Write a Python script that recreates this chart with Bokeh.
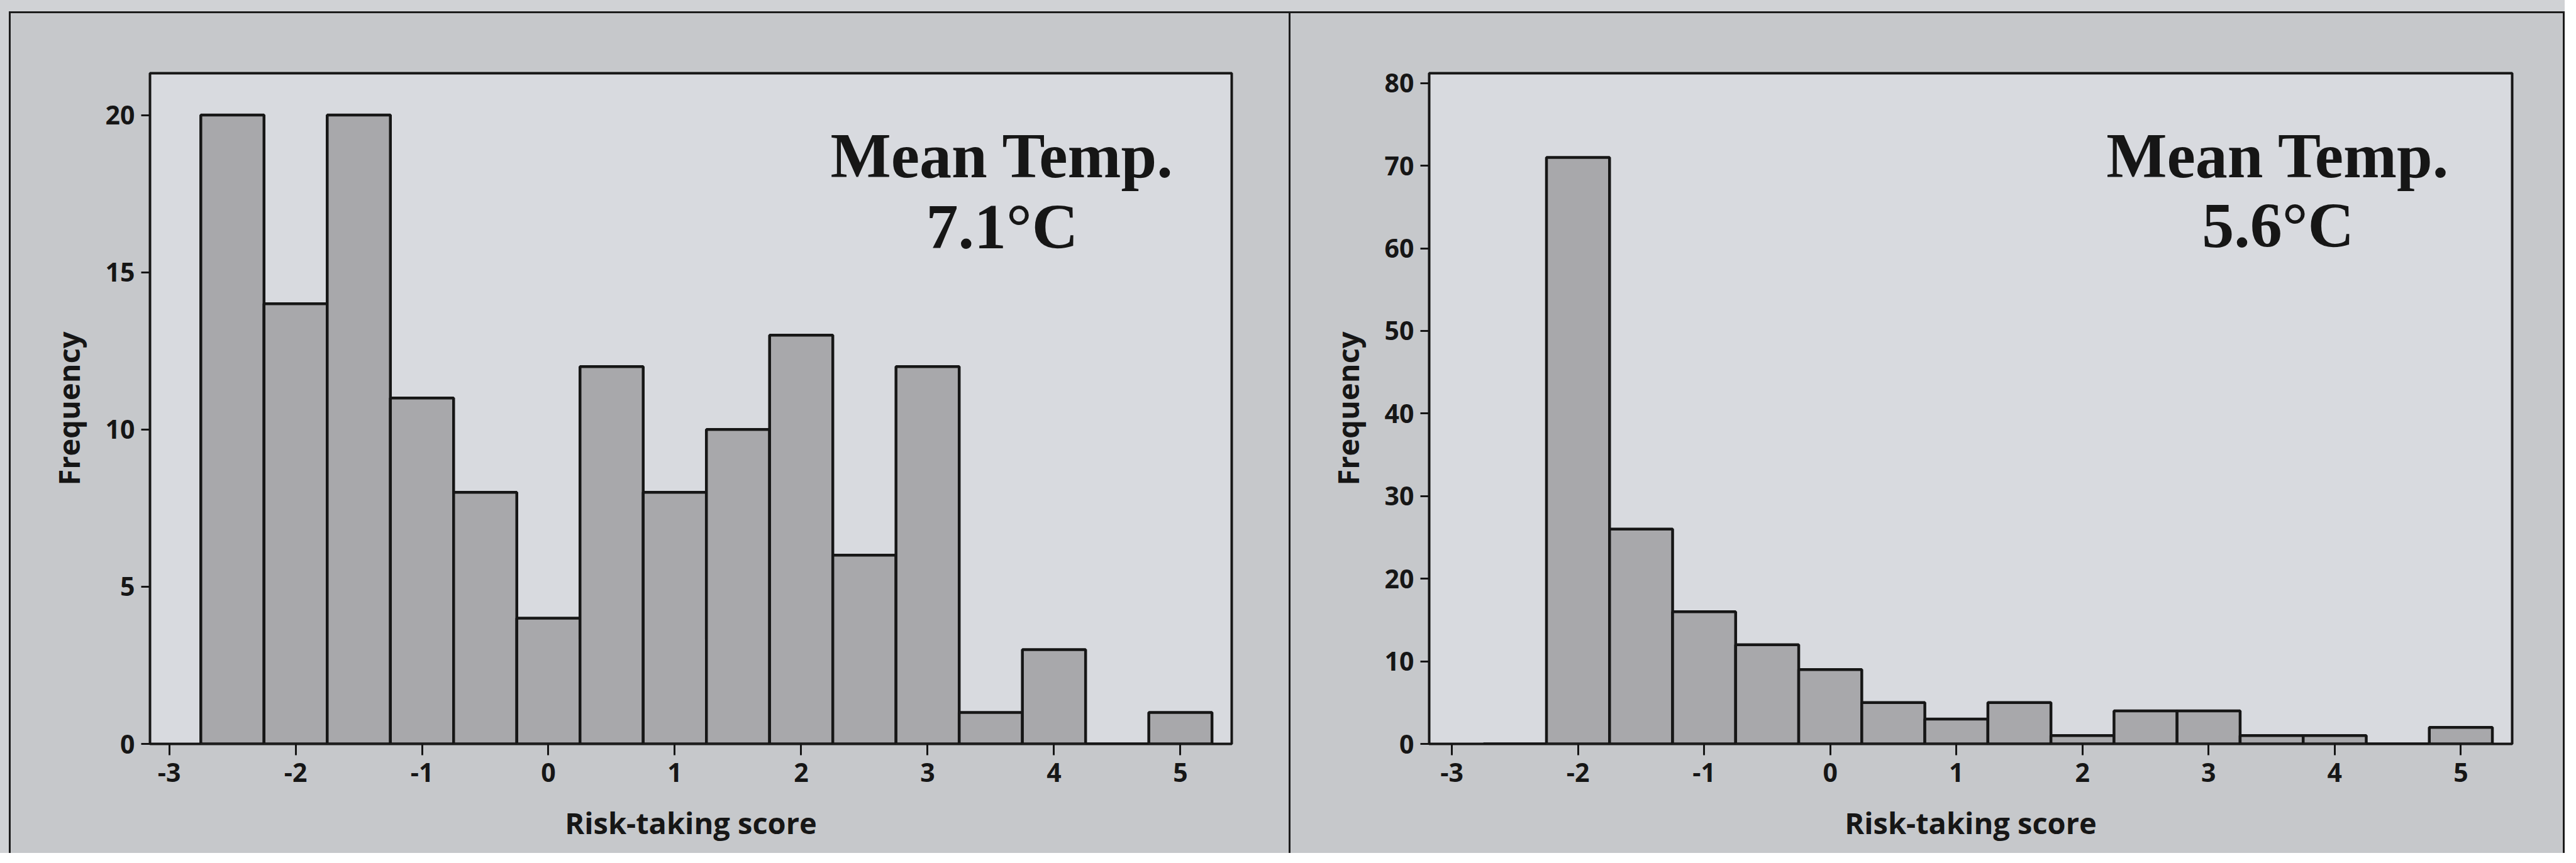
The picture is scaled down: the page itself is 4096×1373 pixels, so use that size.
from bokeh.plotting import figure
from bokeh.layouts import row
from bokeh.models import Label, FixedTicker, Range1d
from bokeh.embed import file_html
from bokeh.resources import INLINE

# ---- data ----
bin_centers = [-2.5, -2.0, -1.5, -1.0, -0.5, 0.0, 0.5, 1.0, 1.5, 2.0, 2.5, 3.0, 3.5, 4.0, 4.5, 5.0]
bin_width = 0.5
counts_left = [20, 14, 20, 11, 8, 4, 12, 8, 10, 13, 6, 12, 1, 3, 0, 1]
counts_right = [0, 71, 26, 16, 12, 9, 5, 3, 5, 1, 4, 4, 1, 1, 0, 2]
x_ticks = [-3, -2, -1, 0, 1, 2, 3, 4, 5]
y_ticks_left = [0, 5, 10, 15, 20]
y_ticks_right = [0, 10, 20, 30, 40, 50, 60, 70, 80]
x_label = "Risk-taking score"
y_label = "Frequency"
title_line1 = "Mean Temp."
title_left_line2 = "7.1°C"
title_right_line2 = "5.6°C"

# ---- style ----
STRIP = "#d0d2d5"
PANEL = "#c6c8cb"
PLOT_BG = "#d8dadf"
BAR = "#a8a8ab"
INK = "#161616"
SANS = "Open Sans"
SERIF = "Liberation Serif"


def make_panel(counts, yticks, x_range, y_range, width, height, borders,
               title_x, title_y1, title_y2, line2, shadow, margin):
    bl, br, bt, bb = borders
    p = figure(width=width, height=height, output_backend="svg", toolbar_location=None,
               x_range=Range1d(*x_range), y_range=Range1d(*y_range),
               min_border_left=bl, min_border_right=br, min_border_top=bt, min_border_bottom=bb,
               background_fill_color=PLOT_BG, border_fill_color=None,
               outline_line_color=INK, outline_line_width=4,
               margin=margin,
               styles={"background-color": PANEL, "box-shadow": shadow})
    p.grid.visible = False
    lefts = [c - bin_width / 2 for c in bin_centers]
    rights = [c + bin_width / 2 for c in bin_centers]
    p.quad(left=lefts, right=rights, top=counts, bottom=[0] * len(counts),
           fill_color=BAR, line_color=INK, line_width=4.5)

    for ax in (p.xaxis[0], p.yaxis[0]):
        ax.axis_line_color = None
        ax.major_tick_in = 0
        ax.minor_tick_line_color = None
        ax.major_tick_line_color = INK
        ax.major_tick_line_width = 3
        ax.major_label_text_font = SANS
        ax.major_label_text_font_style = "bold"
        ax.major_label_text_font_size = "41px"
        ax.major_label_text_color = INK
        ax.axis_label_text_font = SANS
        ax.axis_label_text_font_style = "bold"
        ax.axis_label_text_font_size = "47px"
        ax.axis_label_text_color = INK

    p.xaxis.ticker = FixedTicker(ticks=x_ticks)
    p.yaxis.ticker = FixedTicker(ticks=yticks)
    p.xaxis.major_label_overrides = {t: str(t) for t in x_ticks}
    p.yaxis.major_label_overrides = {t: str(t) for t in yticks}
    p.xaxis.major_tick_out = 18
    p.yaxis.major_tick_out = 14
    p.xaxis.major_label_standoff = 12
    p.yaxis.major_label_standoff = 10
    p.xaxis.axis_label = x_label
    p.yaxis.axis_label = y_label
    p.xaxis.axis_label_standoff = 30
    p.yaxis.axis_label_standoff = 24

    for txt, ty in ((title_line1, title_y1), (line2, title_y2)):
        p.add_layout(Label(x=title_x, y=ty, text=txt, text_align="center",
                           text_baseline="alphabetic", text_font=SERIF,
                           text_font_style="bold", text_font_size="102px",
                           text_color=INK))
    return p


left = make_panel(counts_left, y_ticks_left, (-3.152, 5.406), (0, 21.33),
                  2038, 1339, (224, 94, 90, 165),
                  3.59, 18.71, 16.46, title_left_line2,
                  "inset 3px 3px 0 0 #1c1c1c, inset -3px 0 0 0 #1c1c1c",
                  (18, 0, 0, 14))
right = make_panel(counts_right, y_ticks_right, (-3.18, 5.407), (0, 81.2),
                   2026, 1339, (220, 84, 98, 174),
                   3.55, 71.2, 62.8, title_right_line2,
                   "inset 0 3px 0 0 #1c1c1c, inset -3px 0 0 0 #1c1c1c",
                   (18, 0, 0, 0))

layout = row(left, right, styles={"background-color": STRIP})

open("out.html", "w").write(file_html(layout, INLINE))
